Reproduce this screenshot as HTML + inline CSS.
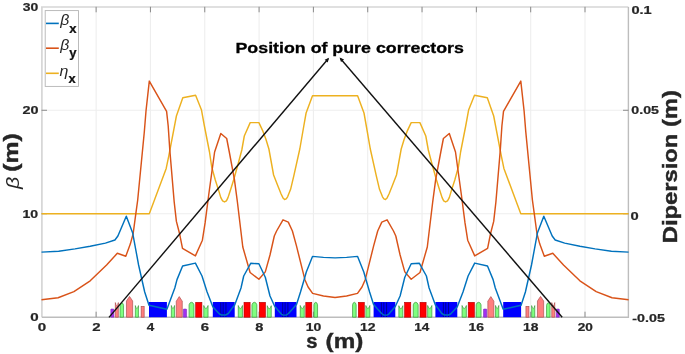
<!DOCTYPE html><html><head><meta charset="utf-8"><style>html,body{margin:0;padding:0;background:#fff;}svg{display:block;will-change:transform;}text{font-family:"Liberation Sans",sans-serif;}</style></head><body>
<svg width="685" height="354" viewBox="0 0 685 354">
<rect width="685" height="354" fill="#fff"/>
<path d="M96.12,6.8V317.2M150.44,6.8V317.2M204.76,6.8V317.2M259.08,6.8V317.2M313.4,6.8V317.2M367.72,6.8V317.2M422.04,6.8V317.2M476.36,6.8V317.2M530.68,6.8V317.2M585,6.8V317.2M41.5,213.73H628.5M41.5,110.27H628.5" stroke="#eeeeee" stroke-width="1.1" fill="none"/>
<path d="M41.9,317.3 V7.0 H628.4" fill="none" stroke="#d6d6d6" stroke-width="1.7"/>
<path d="M41.9,317.3 H628.4 V7.0" fill="none" stroke="#bdbdbd" stroke-width="1.4"/>
<path d="M96.12,317.2v-5.5M96.12,6.8v5.5M150.44,317.2v-5.5M150.44,6.8v5.5M204.76,317.2v-5.5M204.76,6.8v5.5M259.08,317.2v-5.5M259.08,6.8v5.5M313.4,317.2v-5.5M313.4,6.8v5.5M367.72,317.2v-5.5M367.72,6.8v5.5M422.04,317.2v-5.5M422.04,6.8v5.5M476.36,317.2v-5.5M476.36,6.8v5.5M530.68,317.2v-5.5M530.68,6.8v5.5M585,317.2v-5.5M585,6.8v5.5M41.5,213.73h5.5M628.5,213.73h-5.5M41.5,110.27h5.5M628.5,110.27h-5.5" stroke="#8a8a8a" stroke-width="1" fill="none"/>
<path d="M110.8,317.2 V309.6 Q110.8,309 111.4,309 H113.3 Q113.9,309 113.9,309.6 V317.2 Z" fill="#a030f0" stroke="#7020b0" stroke-width="0.5"/><path d="M556.2,317.2 V309.6 Q556.2,309 556.8,309 H558.7 Q559.3,309 559.3,309.6 V317.2 Z" fill="#a030f0" stroke="#7020b0" stroke-width="0.5"/><path d="M115.35,317.2 V302.6 L115.95,304.7 Q116.85,306.5 117.75,304.7 L118.35,302.6 V317.2 Z" fill="#ff7f7f" stroke="#b05050" stroke-width="0.7"/><path d="M551.75,317.2 V302.6 L552.35,304.7 Q553.25,306.5 554.15,304.7 L554.75,302.6 V317.2 Z" fill="#ff7f7f" stroke="#b05050" stroke-width="0.7"/><path d="M120.05,317.2 V305.3 Q120.55,302.7 121.8,302.8 Q123.05,302.7 123.55,305.3 V317.2 Z" fill="#80ff80" stroke="#3c983c" stroke-width="0.7"/><path d="M546.55,317.2 V305.3 Q547.05,302.7 548.3,302.8 Q549.55,302.7 550.05,305.3 V317.2 Z" fill="#80ff80" stroke="#3c983c" stroke-width="0.7"/><path d="M126.45,317.2 V301 L129.55,296.4 L132.65,301 V317.2 Z" fill="#ff7f7f" stroke="#b05050" stroke-width="0.7"/><path d="M537.45,317.2 V301 L540.55,296.4 L543.65,301 V317.2 Z" fill="#ff7f7f" stroke="#b05050" stroke-width="0.7"/><path d="M135.35,317.2 V305.6 L135.97,307.7 Q136.9,309.5 137.83,307.7 L138.45,305.6 V317.2 Z" fill="#80ff80" stroke="#3c983c" stroke-width="0.7"/><path d="M531.65,317.2 V305.6 L532.27,307.7 Q533.2,309.5 534.13,307.7 L534.75,305.6 V317.2 Z" fill="#80ff80" stroke="#3c983c" stroke-width="0.7"/><rect x="141.15" y="306.45" width="3" height="10.75" fill="#ff7f7f" stroke="#b05050" stroke-width="0.7"/><rect x="525.95" y="306.45" width="3" height="10.75" fill="#ff7f7f" stroke="#b05050" stroke-width="0.7"/><rect x="149" y="302" width="17.9" height="15.2" fill="#0000ff"/><rect x="503.2" y="302" width="17.9" height="15.2" fill="#0000ff"/><path d="M171.35,317.2 V305.5 L171.99,307.6 Q172.95,309.4 173.91,307.6 L174.55,305.5 V317.2 Z" fill="#80ff80" stroke="#3c983c" stroke-width="0.7"/><path d="M495.55,317.2 V305.5 L496.19,307.6 Q497.15,309.4 498.11,307.6 L498.75,305.5 V317.2 Z" fill="#80ff80" stroke="#3c983c" stroke-width="0.7"/><path d="M176.25,317.2 V301.2 L179.25,296.6 L182.25,301.2 V317.2 Z" fill="#ff7f7f" stroke="#b05050" stroke-width="0.7"/><path d="M487.85,317.2 V301.2 L490.85,296.6 L493.85,301.2 V317.2 Z" fill="#ff7f7f" stroke="#b05050" stroke-width="0.7"/><path d="M183.3,317.2 V309.6 Q183.3,309 183.9,309 H186 Q186.6,309 186.6,309.6 V317.2 Z" fill="#a030f0" stroke="#7020b0" stroke-width="0.5"/><path d="M483.5,317.2 V309.6 Q483.5,309 484.1,309 H486.2 Q486.8,309 486.8,309.6 V317.2 Z" fill="#a030f0" stroke="#7020b0" stroke-width="0.5"/><path d="M189.05,317.2 V304.8 Q189.72,302.2 191.5,302.3 Q193.28,302.2 193.95,304.8 V317.2 Z" fill="#80ff80" stroke="#3c983c" stroke-width="0.7"/><path d="M476.15,317.2 V304.8 Q476.82,302.2 478.6,302.3 Q480.38,302.2 481.05,304.8 V317.2 Z" fill="#80ff80" stroke="#3c983c" stroke-width="0.7"/><rect x="195.7" y="302.3" width="6.2" height="14.9" fill="#ff0000" stroke="#b00000" stroke-width="0.6"/><rect x="468.2" y="302.3" width="6.2" height="14.9" fill="#ff0000" stroke="#b00000" stroke-width="0.6"/><path d="M203.75,317.2 V305.5 L204.61,307.6 Q205.9,309.4 207.19,307.6 L208.05,305.5 V317.2 Z" fill="#80ff80" stroke="#3c983c" stroke-width="0.7"/><path d="M462.05,317.2 V305.5 L462.91,307.6 Q464.2,309.4 465.49,307.6 L466.35,305.5 V317.2 Z" fill="#80ff80" stroke="#3c983c" stroke-width="0.7"/><rect x="212.8" y="302" width="21.9" height="15.2" fill="#0000ff"/><rect x="435.4" y="302" width="21.9" height="15.2" fill="#0000ff"/><path d="M238.25,317.2 V305.5 L239.09,307.6 Q240.35,309.4 241.61,307.6 L242.45,305.5 V317.2 Z" fill="#80ff80" stroke="#3c983c" stroke-width="0.7"/><path d="M427.65,317.2 V305.5 L428.49,307.6 Q429.75,309.4 431.01,307.6 L431.85,305.5 V317.2 Z" fill="#80ff80" stroke="#3c983c" stroke-width="0.7"/><rect x="244" y="302.3" width="6.1" height="14.9" fill="#ff0000" stroke="#b00000" stroke-width="0.6"/><rect x="420" y="302.3" width="6.1" height="14.9" fill="#ff0000" stroke="#b00000" stroke-width="0.6"/><path d="M251.95,317.2 V304.8 Q252.62,302.2 254.4,302.3 Q256.18,302.2 256.85,304.8 V317.2 Z" fill="#80ff80" stroke="#3c983c" stroke-width="0.7"/><path d="M413.25,317.2 V304.8 Q413.92,302.2 415.7,302.3 Q417.48,302.2 418.15,304.8 V317.2 Z" fill="#80ff80" stroke="#3c983c" stroke-width="0.7"/><rect x="259.3" y="302.3" width="6.2" height="14.9" fill="#ff0000" stroke="#b00000" stroke-width="0.6"/><rect x="404.6" y="302.3" width="6.2" height="14.9" fill="#ff0000" stroke="#b00000" stroke-width="0.6"/><path d="M267.25,317.2 V305.7 L268.05,307.8 Q269.25,309.6 270.45,307.8 L271.25,305.7 V317.2 Z" fill="#80ff80" stroke="#3c983c" stroke-width="0.7"/><path d="M398.85,317.2 V305.7 L399.65,307.8 Q400.85,309.6 402.05,307.8 L402.85,305.7 V317.2 Z" fill="#80ff80" stroke="#3c983c" stroke-width="0.7"/><rect x="274.8" y="302" width="21.7" height="15.2" fill="#0000ff"/><rect x="373.6" y="302" width="21.7" height="15.2" fill="#0000ff"/><path d="M300.25,317.2 V305.5 L301.05,307.6 Q302.25,309.4 303.45,307.6 L304.25,305.5 V317.2 Z" fill="#80ff80" stroke="#3c983c" stroke-width="0.7"/><path d="M365.85,317.2 V305.5 L366.65,307.6 Q367.85,309.4 369.05,307.6 L369.85,305.5 V317.2 Z" fill="#80ff80" stroke="#3c983c" stroke-width="0.7"/><rect x="305.8" y="302.3" width="6" height="14.9" fill="#ff0000" stroke="#b00000" stroke-width="0.6"/><rect x="358.3" y="302.3" width="6" height="14.9" fill="#ff0000" stroke="#b00000" stroke-width="0.6"/><path d="M313.95,317.2 V304.8 Q314.47,302.2 315.75,302.3 Q317.03,302.2 317.55,304.8 V317.2 Z" fill="#80ff80" stroke="#3c983c" stroke-width="0.7"/><path d="M352.55,317.2 V304.8 Q353.07,302.2 354.35,302.3 Q355.63,302.2 356.15,304.8 V317.2 Z" fill="#80ff80" stroke="#3c983c" stroke-width="0.7"/><line x1="220.75" y1="302.4" x2="220.75" y2="317" stroke="#000088" stroke-width="0.9"/><line x1="223.15" y1="302.4" x2="223.15" y2="317" stroke="#000088" stroke-width="0.9"/><line x1="225.95" y1="302.4" x2="225.95" y2="317" stroke="#000088" stroke-width="0.9"/><line x1="282.7" y1="302.4" x2="282.7" y2="317" stroke="#000088" stroke-width="0.9"/><line x1="285.1" y1="302.4" x2="285.1" y2="317" stroke="#000088" stroke-width="0.9"/><line x1="287.9" y1="302.4" x2="287.9" y2="317" stroke="#000088" stroke-width="0.9"/><line x1="381.4" y1="302.4" x2="381.4" y2="317" stroke="#000088" stroke-width="0.9"/><line x1="383.8" y1="302.4" x2="383.8" y2="317" stroke="#000088" stroke-width="0.9"/><line x1="386.6" y1="302.4" x2="386.6" y2="317" stroke="#000088" stroke-width="0.9"/><line x1="443.35" y1="302.4" x2="443.35" y2="317" stroke="#000088" stroke-width="0.9"/><line x1="445.75" y1="302.4" x2="445.75" y2="317" stroke="#000088" stroke-width="0.9"/><line x1="448.55" y1="302.4" x2="448.55" y2="317" stroke="#000088" stroke-width="0.9"/>
<polyline points="41.5,213.7 149.3,213.7 153.7,202 166.2,168.4 168.8,155.9 176.4,116 182.8,97.8 195.6,95.3 201.5,110.1 204.4,126 209.5,152 211.7,166.9 215.3,180 218.5,189.9 220.8,197.6 222.6,200.9 224.5,201.9 226.4,200.9 228,197.6 229.5,193 231.2,187.8 233.6,180 238.1,164 241.8,150 244.3,136 250.2,122.6 258.9,122.6 263,131.4 266,139.5 268.9,149 273.6,175 277.9,186.1 281.1,194 283,197.9 284.6,199.5 286.2,198.9 287.6,196.8 290.6,189.3 293.8,175.8 299.8,149 303.8,126 306.1,113 312.5,95.7 335.05,95.7 357.6,95.7 364,113 366.3,126 370.3,149 376.3,175.8 379.5,189.3 382.5,196.8 383.9,198.9 385.5,199.5 387.1,197.9 389,194 392.2,186.1 396.5,175 401.2,149 404.1,139.5 407.1,131.4 411.2,122.6 419.9,122.6 425.8,136 428.3,150 432,164 436.5,180 438.9,187.8 440.6,193 442.1,197.6 443.7,200.9 445.6,201.9 447.5,200.9 449.3,197.6 451.6,189.9 454.8,180 458.4,166.9 460.6,152 465.7,126 468.6,110.1 474.5,95.3 487.3,97.8 493.7,116 501.3,155.9 503.9,168.4 516.4,202 520.8,213.7 628.6,213.7" fill="none" stroke="#edb120" stroke-width="1.45" stroke-linejoin="round"/>
<polyline points="41.5,299.8 58.1,297.7 73.9,291.6 90.2,280.8 106.6,265 117.3,253.3 125.8,256.2 130.3,244.1 133.1,234 135.8,213.8 137.7,200 144.3,132 146,111 149.3,81.1 166.6,111.3 168.2,126 169.8,150 174.2,202 176.4,221.4 179.6,233.8 182.5,248.4 195.4,255.9 202.4,240.2 205.1,222.9 208.7,195 214.6,152 220.8,133.5 226.7,138.5 229.3,152 234.4,179.4 237.4,202 242.8,247 250.1,272.5 258.9,279.3 265.3,271.9 270,255 274.3,236 276.6,231 283,219.8 288.3,222.1 292.4,231 296.4,245.6 303.7,274.9 305,280 308.1,287 312.6,293.4 323.5,296 335.05,297.5 346.6,296 357.5,293.4 362,287 365.1,280 366.4,274.9 373.7,245.6 377.7,231 381.8,222.1 387.1,219.8 393.5,231 395.8,236 400.1,255 404.8,271.9 411.2,279.3 420,272.5 427.3,247 432.7,202 435.7,179.4 440.8,152 443.4,138.5 449.3,133.5 455.5,152 461.4,195 465,222.9 467.7,240.2 474.7,255.9 487.6,248.4 490.5,233.8 493.7,221.4 495.9,202 500.3,150 501.9,126 503.5,111.3 520.8,81.1 524.1,111 525.8,132 532.4,200 534.3,213.8 537,234 539.8,244.1 544.3,256.2 552.8,253.3 563.5,265 579.9,280.8 596.2,291.6 612,297.7 628.6,299.8" fill="none" stroke="#d95319" stroke-width="1.45" stroke-linejoin="round"/>
<polyline points="41.5,252.1 58.7,251.3 75,248.9 90.2,246.3 105.4,243.1 114.9,240 117.9,236 126.3,216.2 132.7,233.1 138.6,265 144.7,292 149,305.3 166.9,309.3 174.8,288 177,279.6 182.6,266 195.4,263.1 202,276 207.1,292 212.8,306.8 216.2,310.5 219.5,314 221.5,315 225.7,315 228.3,313.5 232,308.4 234.7,305 241,288 243.7,276 250.7,263.3 258.9,263.8 265.3,277.2 270,296 274.8,306.5 278.5,310.8 281.5,314.3 283.2,315.1 286.2,315.1 288.5,313.5 293,308.5 296.6,304.2 300.5,292 304.1,279.8 306.3,272 312.5,256.4 323.5,257.4 335.05,257.9 346.6,257.4 357.6,256.4 363.8,272 366,279.8 369.6,292 373.5,304.2 377.1,308.5 381.6,313.5 383.9,315.1 386.9,315.1 388.6,314.3 391.6,310.8 395.3,306.5 400.1,296 404.8,277.2 411.2,263.8 419.4,263.3 426.4,276 429.1,288 435.4,305 438.1,308.4 441.8,313.5 444.4,315 448.6,315 450.6,314 453.9,310.5 457.3,306.8 463,292 468.1,276 474.7,263.1 487.5,266 493.1,279.6 495.3,288 503.2,309.3 521.1,305.3 525.4,292 531.5,265 537.4,233.1 543.8,216.2 552.2,236 555.2,240 564.7,243.1 579.9,246.3 595.1,248.9 611.4,251.3 628.6,252.1" fill="none" stroke="#0072bd" stroke-width="1.45" stroke-linejoin="round"/>
<g stroke="#111" stroke-width="1.4" fill="none"><line x1="109" y1="317.4" x2="328" y2="59"/><line x1="562.2" y1="317.3" x2="340.6" y2="58.7"/></g>
<path d="M329.1,57.7 L327.72,62.43 L324.66,59.84 Z" fill="#111"/>
<path d="M339.6,57.4 L344.05,59.52 L341.01,62.12 Z" fill="#111"/>
<text x="30.3" y="321.4" font-family="Liberation Sans" font-weight="bold" font-style="normal" font-size="11.6" textLength="8.42" lengthAdjust="spacingAndGlyphs" fill="#262626" stroke="#262626" stroke-width="0.23">0</text><text x="22.41" y="218.1" font-family="Liberation Sans" font-weight="bold" font-style="normal" font-size="11.6" textLength="15.66" lengthAdjust="spacingAndGlyphs" fill="#262626" stroke="#262626" stroke-width="0.23">10</text><text x="22.4" y="114.3" font-family="Liberation Sans" font-weight="bold" font-style="normal" font-size="11.6" textLength="15.99" lengthAdjust="spacingAndGlyphs" fill="#262626" stroke="#262626" stroke-width="0.23">20</text><text x="22.88" y="10.8" font-family="Liberation Sans" font-weight="bold" font-style="normal" font-size="11.6" textLength="15.49" lengthAdjust="spacingAndGlyphs" fill="#262626" stroke="#262626" stroke-width="0.23">30</text><text x="632.34" y="322" font-family="Liberation Sans" font-weight="bold" font-style="normal" font-size="11.6" textLength="32.56" lengthAdjust="spacingAndGlyphs" fill="#262626" stroke="#262626" stroke-width="0.23">-0.05</text><text x="630.42" y="219.8" font-family="Liberation Sans" font-weight="bold" font-style="normal" font-size="11.6" textLength="8.19" lengthAdjust="spacingAndGlyphs" fill="#262626" stroke="#262626" stroke-width="0.23">0</text><text x="631.34" y="114.3" font-family="Liberation Sans" font-weight="bold" font-style="normal" font-size="11.6" textLength="27.66" lengthAdjust="spacingAndGlyphs" fill="#262626" stroke="#262626" stroke-width="0.23">0.05</text><text x="631.42" y="14" font-family="Liberation Sans" font-weight="bold" font-style="normal" font-size="11.6" textLength="20.28" lengthAdjust="spacingAndGlyphs" fill="#262626" stroke="#262626" stroke-width="0.23">0.1</text><text x="37.8" y="331.4" font-family="Liberation Sans" font-weight="bold" font-style="normal" font-size="11.6" textLength="8.42" lengthAdjust="spacingAndGlyphs" fill="#262626" stroke="#262626" stroke-width="0.23">0</text><text x="92.2" y="331.4" font-family="Liberation Sans" font-weight="bold" font-style="normal" font-size="11.6" textLength="8.32" lengthAdjust="spacingAndGlyphs" fill="#262626" stroke="#262626" stroke-width="0.23">2</text><text x="146.84" y="331.4" font-family="Liberation Sans" font-weight="bold" font-style="normal" font-size="11.6" textLength="7.48" lengthAdjust="spacingAndGlyphs" fill="#262626" stroke="#262626" stroke-width="0.23">4</text><text x="200.81" y="331.4" font-family="Liberation Sans" font-weight="bold" font-style="normal" font-size="11.6" textLength="8.28" lengthAdjust="spacingAndGlyphs" fill="#262626" stroke="#262626" stroke-width="0.23">6</text><text x="255.22" y="331.4" font-family="Liberation Sans" font-weight="bold" font-style="normal" font-size="11.6" textLength="8.11" lengthAdjust="spacingAndGlyphs" fill="#262626" stroke="#262626" stroke-width="0.23">8</text><text x="305.67" y="331.4" font-family="Liberation Sans" font-weight="bold" font-style="normal" font-size="11.6" textLength="15.55" lengthAdjust="spacingAndGlyphs" fill="#262626" stroke="#262626" stroke-width="0.23">10</text><text x="359.99" y="331.4" font-family="Liberation Sans" font-weight="bold" font-style="normal" font-size="11.6" textLength="15.54" lengthAdjust="spacingAndGlyphs" fill="#262626" stroke="#262626" stroke-width="0.23">12</text><text x="414.34" y="331.4" font-family="Liberation Sans" font-weight="bold" font-style="normal" font-size="11.6" textLength="15.02" lengthAdjust="spacingAndGlyphs" fill="#262626" stroke="#262626" stroke-width="0.23">14</text><text x="468.63" y="331.4" font-family="Liberation Sans" font-weight="bold" font-style="normal" font-size="11.6" textLength="15.48" lengthAdjust="spacingAndGlyphs" fill="#262626" stroke="#262626" stroke-width="0.23">16</text><text x="522.96" y="331.4" font-family="Liberation Sans" font-weight="bold" font-style="normal" font-size="11.6" textLength="15.4" lengthAdjust="spacingAndGlyphs" fill="#262626" stroke="#262626" stroke-width="0.23">18</text><text x="577.68" y="331.4" font-family="Liberation Sans" font-weight="bold" font-style="normal" font-size="11.6" textLength="15.13" lengthAdjust="spacingAndGlyphs" fill="#262626" stroke="#262626" stroke-width="0.23">20</text>
<text x="306.19" y="347.9" font-family="Liberation Sans" font-weight="bold" font-style="normal" font-size="20" textLength="11.24" lengthAdjust="spacingAndGlyphs" fill="#262626" stroke="#262626" stroke-width="0.4">s</text>
<text x="325.59" y="347.6" font-family="Liberation Sans" font-weight="bold" font-style="normal" font-size="19.5" textLength="37.72" lengthAdjust="spacingAndGlyphs" fill="#262626" stroke="#262626" stroke-width="0.39">(m)</text>
<text transform="translate(18.6,189.5) rotate(-90)" x="0.4" y="0" font-family="Liberation Serif" font-weight="normal" font-style="italic" font-size="17.6" textLength="12.24" lengthAdjust="spacingAndGlyphs" fill="#262626">&#946;</text>
<text transform="translate(18,170.5) rotate(-90)" x="-1.23" y="0" font-family="Liberation Sans" font-weight="bold" font-style="normal" font-size="19.5" textLength="38.46" lengthAdjust="spacingAndGlyphs" fill="#262626" stroke="#262626" stroke-width="0.39">(m)</text>
<text transform="translate(676.9,241.6) rotate(-90)" x="-1.59" y="0" font-family="Liberation Sans" font-weight="bold" font-style="normal" font-size="20.5" textLength="153.07" lengthAdjust="spacingAndGlyphs" fill="#262626" stroke="#262626" stroke-width="0.41">Dipersion (m)</text>
<text x="235.51" y="53.4" font-family="Liberation Sans" font-weight="bold" font-style="normal" font-size="14.7" textLength="228.42" lengthAdjust="spacingAndGlyphs" fill="#000" stroke="#000" stroke-width="0.29">Position of pure correctors</text>
<rect x="45.2" y="10.6" width="33.3" height="75.8" fill="#fff" stroke="#b4b4b4" stroke-width="0.9"/>
<line x1="46" y1="23.4" x2="58.8" y2="23.4" stroke="#0072bd" stroke-width="1.6"/>
<line x1="46" y1="48.2" x2="58.8" y2="48.2" stroke="#d95319" stroke-width="1.6"/>
<line x1="46" y1="73.3" x2="58.8" y2="73.3" stroke="#edb120" stroke-width="1.6"/>
<text x="60.29" y="25.1" font-family="Liberation Serif" font-weight="normal" font-style="italic" font-size="13.9" textLength="9.03" lengthAdjust="spacingAndGlyphs" fill="#262626">&#946;</text>
<text x="60.29" y="49.6" font-family="Liberation Serif" font-weight="normal" font-style="italic" font-size="13.9" textLength="9.03" lengthAdjust="spacingAndGlyphs" fill="#262626">&#946;</text>
<text x="59.56" y="75.6" font-family="Liberation Serif" font-weight="normal" font-style="italic" font-size="13.9" textLength="8.88" lengthAdjust="spacingAndGlyphs" fill="#262626">&#951;</text>
<text x="69.31" y="32.7" font-family="Liberation Sans" font-weight="bold" font-style="normal" font-size="12.2" textLength="7.29" lengthAdjust="spacingAndGlyphs" fill="#111" stroke="#111" stroke-width="0.24">x</text>
<text x="69.3" y="57.4" font-family="Liberation Sans" font-weight="bold" font-style="normal" font-size="12.2" textLength="7.27" lengthAdjust="spacingAndGlyphs" fill="#111" stroke="#111" stroke-width="0.24">y</text>
<text x="68.41" y="82.6" font-family="Liberation Sans" font-weight="bold" font-style="normal" font-size="12.2" textLength="7.18" lengthAdjust="spacingAndGlyphs" fill="#111" stroke="#111" stroke-width="0.24">x</text>
</svg></body></html>
